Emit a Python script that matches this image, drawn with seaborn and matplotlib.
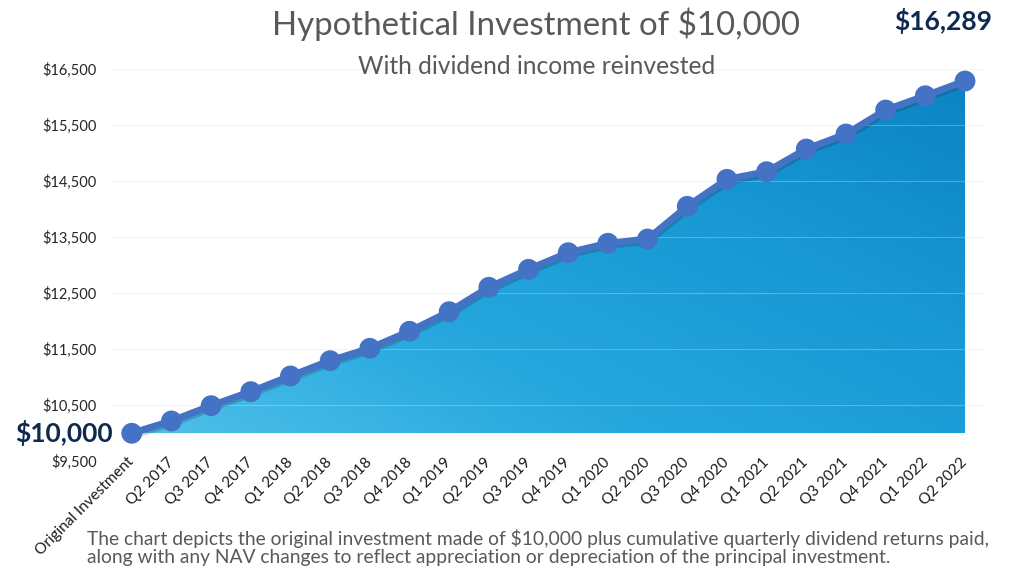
import numpy as np
import pandas as pd
import seaborn as sns
import matplotlib.pyplot as plt
import matplotlib.patheffects as pe
from matplotlib.colors import LinearSegmentedColormap
from matplotlib.ticker import FuncFormatter

# Data
quarters = ['Original Investment',
            'Q2 2017', 'Q3 2017', 'Q4 2017',
            'Q1 2018', 'Q2 2018', 'Q3 2018', 'Q4 2018',
            'Q1 2019', 'Q2 2019', 'Q3 2019', 'Q4 2019',
            'Q1 2020', 'Q2 2020', 'Q3 2020', 'Q4 2020',
            'Q1 2021', 'Q2 2021', 'Q3 2021', 'Q4 2021',
            'Q1 2022', 'Q2 2022']
values = [10000,
          10220, 10493, 10743,
          11023, 11296, 11517, 11821,
          12171, 12606, 12927, 13224,
          13392, 13468, 14052, 14534,
          14670, 15075, 15343, 15771,
          16026, 16289]
y_ticks = [9500, 10500, 11500, 12500, 13500, 14500, 15500, 16500]

df = pd.DataFrame({'quarter': quarters, 'value': values})

sns.set_theme(style='white')
plt.rcParams['font.family'] = ['Lato', 'DejaVu Sans']

fig = plt.figure(figsize=(10.1, 5.88), dpi=100)
ax = fig.add_axes([0.1108, 0.2155, 0.8643, 0.6668])

# Area under the line, filled with a blue gradient
fill = ax.fill_between(df['quarter'], values[0], df['value'], color='none', lw=0, zorder=1)
cmap = LinearSegmentedColormap.from_list('blues', ['#4fc0ea', '#25a7dd', '#1898d4', '#0c84c4'])
gx, gy = np.meshgrid(np.linspace(0, 1, 200), np.linspace(0, 1, 200))
grad = (gx * 0.55 + gy * 0.45)
im = ax.imshow(grad, cmap=cmap, origin='lower', aspect='auto',
               extent=[0, len(quarters) - 1, values[0], max(values)], zorder=1)
im.set_clip_path(fill.get_paths()[0], transform=ax.transData)

# Faint grid lines
for t in y_ticks:
    ax.axhline(t, color='#f4f4f4', lw=0.8, zorder=0.5)
    gl = ax.axhline(t, color='white', alpha=0.25, lw=0.8, zorder=1.5)
    gl.set_clip_path(fill.get_paths()[0], transform=ax.transData)

sns.lineplot(data=df, x='quarter', y='value', sort=False, ax=ax,
             color='#4472c4', lw=5, marker='o', markersize=15,
             markeredgewidth=0, zorder=3)
ax.lines[-1].set_path_effects([pe.SimpleLineShadow(offset=(1, -1.5), alpha=0.2), pe.Normal()])

ax.set_xlim(-0.5, len(quarters) - 0.5)
ax.set_ylim(y_ticks[0], y_ticks[-1])
ax.set_yticks(y_ticks)
ax.yaxis.set_major_formatter(FuncFormatter(lambda v, p: f'${v:,.0f}'))
ax.set_xlabel('')
ax.set_ylabel('')
for s in ax.spines.values():
    s.set_visible(False)
ax.tick_params(axis='y', length=0, pad=11, labelsize=10.5, labelcolor='#262626')
ax.tick_params(axis='x', length=0, pad=-1, labelsize=11, labelcolor='#1a1a1a')
plt.setp(ax.get_xticklabels(), rotation=45, ha='right', va='center', rotation_mode='anchor')

# Start and end value callouts
ax.annotate(f'${values[0]:,}', xy=(0, values[0]), xytext=(-14, 0), textcoords='offset points',
            ha='right', va='center', fontsize=19, fontweight='bold', color='#0e2a50')
ax.annotate(f'${values[-1]:,}', xy=(len(quarters) - 1, values[-1]), xytext=(-16, 43),
            textcoords='offset points', ha='center', va='center',
            fontsize=19, fontweight='bold', color='#0e2a50', annotation_clip=False)

fig.text(0.531, 0.9405, 'Hypothetical Investment of $10,000', ha='center', va='baseline',
         fontsize=23.8, color='#595959')
fig.text(0.531, 0.874, 'With dividend income reinvested', ha='center', va='baseline',
         fontsize=17.7, color='#595959')
fig.text(0.086, 0.0731,
         'The chart depicts the original investment made of $10,000 plus cumulative quarterly dividend returns paid,',
         ha='left', va='baseline', fontsize=13.9, color='#595959')
fig.text(0.086, 0.0425,
         'along with any NAV changes to reflect appreciation or depreciation of the principal investment.',
         ha='left', va='baseline', fontsize=13.9, color='#595959')

fig.savefig('out.png', dpi=100)
